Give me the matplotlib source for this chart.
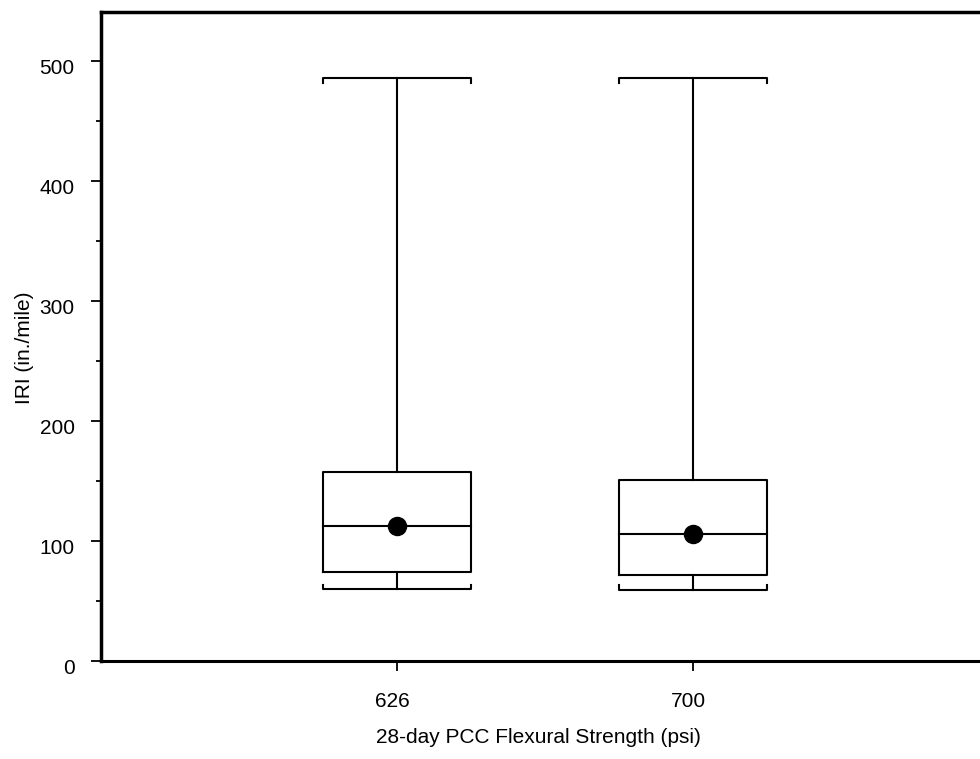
import matplotlib
matplotlib.use("Agg")
import matplotlib.pyplot as plt
from matplotlib.transforms import ScaledTranslation

plt.rcParams['font.family'] = ['Liberation Sans', 'DejaVu Sans']

# data
labels = ['626', '700']
whis_lo = [60.1, 59.5]
q1 = [73.9, 71.4]
median = [112.2, 105.9]
q3 = [157.5, 150.5]
whis_hi = [485.6, 485.6]
means = [112.2, 105.9]

fig = plt.figure(figsize=(9.8, 7.59), dpi=100)
# axes runs past the right edge of the figure, like the original
ax = fig.add_axes([101 / 980, 98 / 759, 888 / 980, 649 / 759])

lw = 1.5
half = 0.25
serif = 3.5
positions = [1, 2]
for i, x in enumerate(positions):
    # box
    ax.plot([x - half, x + half, x + half, x - half, x - half],
            [q1[i], q1[i], q3[i], q3[i], q1[i]], color='black', lw=lw)
    # median
    ax.plot([x - half, x + half], [median[i], median[i]], color='black', lw=lw)
    # whiskers
    ax.plot([x, x], [q3[i], whis_hi[i]], color='black', lw=lw)
    ax.plot([x, x], [q1[i], whis_lo[i]], color='black', lw=lw)
    # caps with little end ticks pointing at the box
    ax.plot([x - half, x - half, x + half, x + half],
            [whis_hi[i] - serif, whis_hi[i], whis_hi[i], whis_hi[i] - serif],
            color='black', lw=lw)
    ax.plot([x - half, x - half, x + half, x + half],
            [whis_lo[i] + serif, whis_lo[i], whis_lo[i], whis_lo[i] + serif],
            color='black', lw=lw)
    # mean
    ax.plot(x, means[i], 'o', color='black', markersize=13, zorder=5)

ax.set_xlim(0, 3)
ax.set_ylim(0, 541)
ax.set_xticks(positions)
ax.set_xticklabels(labels)
ax.set_yticks([0, 100, 200, 300, 400, 500])
ax.set_yticks([50, 150, 250, 350, 450], minor=True)

ax.spines['right'].set_visible(False)
for s in ['left', 'top']:
    ax.spines[s].set_linewidth(2.5)
ax.spines['bottom'].set_linewidth(2.2)

ax.tick_params(axis='both', which='major', direction='out', length=7, width=1.3,
               labelsize=15, colors='black')
ax.tick_params(axis='x', which='major', pad=15)
ax.tick_params(axis='y', which='major', pad=12)
ax.tick_params(axis='y', which='minor', direction='out', length=3.5, width=1.3)

# y tick labels sit a little below their ticks in the original,
# x tick labels a little to the left
for lab in ax.get_yticklabels():
    lab.set_transform(lab.get_transform() + ScaledTranslation(0, -5 / 100, fig.dpi_scale_trans))
for lab in ax.get_xticklabels():
    lab.set_transform(lab.get_transform() + ScaledTranslation(-5 / 100, 0, fig.dpi_scale_trans))

ax.set_xlabel('28-day PCC Flexural Strength (psi)', fontsize=15)
ax.set_ylabel('IRI (in./mile)', fontsize=15)
ax.xaxis.set_label_coords(0.493, -0.104)
ax.yaxis.set_label_coords(-0.075, 0.483)

fig.savefig('out.png', dpi=100)
